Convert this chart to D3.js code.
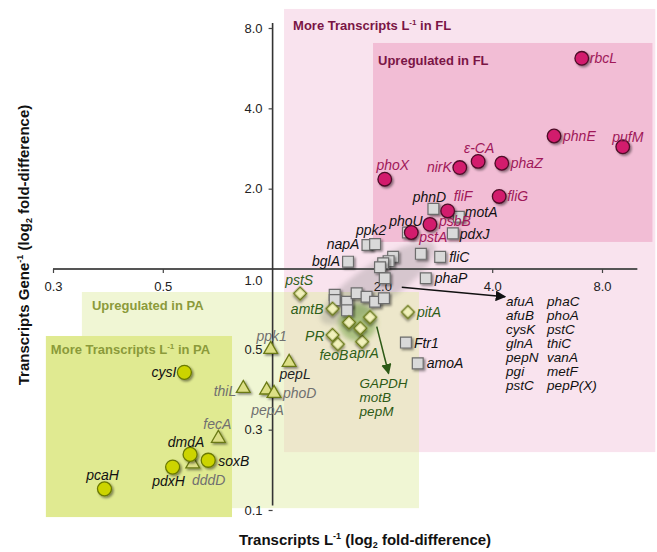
<!DOCTYPE html>
<html>
<head>
<meta charset="utf-8">
<script src="https://cdn.jsdelivr.net/npm/d3@7"></script>
<style>
  body { margin: 0; background: #fff; }
  svg { display: block; font-family: "Liberation Sans", Arial, Helvetica, sans-serif; }
</style>
</head>
<body>
<svg id="chart" width="657" height="552"></svg>
<script>
// ---- Data: fold-differences (FL / PA), transcripts per litre (x) and per gene copy (y) ----

// Genes enriched in FL (magenta circles)
const flGenes   = ["rbcL", "phnE", "pufM", "phoX", "nirK", "ε-CA", "phaZ", "fliG", "fliF", "psbB", "pstA"];
const flPerL    = [7.04, 5.91, 9.12, 2.03, 3.26, 3.66, 4.25, 4.18, 3.02, 2.70, 2.40];
const flPerGene = [6.16, 3.15, 2.87, 2.17, 2.40, 2.53, 2.49, 1.87, 1.65, 1.47, 1.37];

// Labelled genes with more transcripts per litre in FL (grey squares)
const sqGenes   = ["phnD", "motA", "phoU", "pdxJ", "napA", "ppk2", "bglA", "fliC", "phaP", "Ftr1", "amoA"];
const sqPerL    = [2.76, 3.24, 2.35, 3.12, 1.82, 1.91, 1.61, 2.88, 2.63, 2.32, 2.50];
const sqPerGene = [1.68, 1.57, 1.37, 1.36, 1.23, 1.24, 1.065, 1.11, 0.923, 0.53, 0.443];

// Unlabelled grey squares (named in the list to the right)
const clusterPerL    = [2.55, 2.14, 2.08, 2.01, 1.97, 2.03, 1.48, 1.48, 1.60, 1.60, 1.70, 1.81, 1.91, 2.02];
const clusterPerGene = [1.14, 1.11, 1.07, 1.05, 1.015, 0.923, 0.80, 0.765, 0.754, 0.70, 0.811, 0.787, 0.754, 0.777];
const clusterListCol1 = ["afuA", "afuB", "cysK", "glnA", "pepN", "pgi", "pstC"];
const clusterListCol2 = ["phaC", "phoA", "pstC", "thiC", "vanA", "metF", "pepP(X)"];

// Diamonds
const dmGenes   = ["pstS", "amtB", "pitA", "PR", "feoB", "aprA", "", "", ""];
const dmPerL    = [1.19, 1.46, 2.35, 1.46, 1.51, 1.76, 1.62, 1.74, 1.85];
const dmPerGene = [0.81, 0.71, 0.69, 0.566, 0.523, 0.534, 0.631, 0.60, 0.66];
const greenGroupList = ["GAPDH", "motB", "pepM"];

// Triangles
const trGenes   = ["ppk1", "pepL", "thiL", "pepA", "phoD", "fecA", "dddD"];
const trPerL    = [0.988, 1.11, 0.831, 0.963, 1.009, 0.71, 0.604];
const trPerGene = [0.50, 0.447, 0.357, 0.352, 0.342, 0.232, 0.186];

// Genes enriched in PA (yellow-green circles)
const paGenes   = ["cysI", "dmdA", "soxB", "pdxH", "pcaH"];
const paPerL    = [0.573, 0.594, 0.666, 0.532, 0.346];
const paPerGene = [0.41, 0.202, 0.192, 0.181, 0.150];

// Axis ticks
const xTicks = [0.25, 0.5, 2, 4, 8];
const yTicks = [0.125, 0.25, 0.5, 2, 4, 8];

// ---- Layout ----
const svg = d3.select("#chart");
const x = d3.scaleLog().base(2).domain([0.25, 8]).range([53, 602]);
const y = d3.scaleLog().base(2).domain([0.125, 8]).range([510, 28]);
const fmt = d3.format(".1f");

// Shadow filters
const defs = svg.append("defs");
const sh = defs.append("filter").attr("id", "shadow").attr("x", "-50%").attr("y", "-50%").attr("width", "200%").attr("height", "200%");
sh.append("feDropShadow").attr("dx", 1.6).attr("dy", 1.6).attr("stdDeviation", 1.3)
  .attr("flood-color", "#000").attr("flood-opacity", 0.45);
defs.append("filter").attr("id", "soft").attr("x", "-30%").attr("y", "-30%").attr("width", "160%").attr("height", "160%")
  .append("feGaussianBlur").attr("stdDeviation", 2.5);

// Shaded regions (extents in data units)
const regions = [
  { x0: 1.075, x1: 11.2, y0: 9.43, y1: 0.206, fill: "#f9e3ee" },
  { x0: 1.885, x1: 11.0, y0: 7.03, y1: 1.263, fill: "#f2bdd5" },
  { x0: 0.300, x1: 2.52, y0: 0.82, y1: 0.127, fill: "rgba(222,236,160,0.45)" },
  { x0: 0.239, x1: 0.774, y0: 0.561, y1: 0.1176, fill: "#e0ea91" }
];
svg.append("g").selectAll("rect").data(regions).join("rect")
  .attr("x", d => x(d.x0)).attr("y", d => y(d.y0))
  .attr("width", d => x(d.x1) - x(d.x0)).attr("height", d => y(d.y1) - y(d.y0))
  .attr("fill", d => d.fill);

// Region captions
function caption(txt, sup, rest, px, py, color) {
  const t = svg.append("text").attr("x", px).attr("y", py)
    .attr("font-size", 13).attr("font-weight", "bold").attr("fill", color);
  t.append("tspan").text(txt);
  if (sup) {
    t.append("tspan").attr("font-size", 8).attr("dy", -5).text(sup);
    t.append("tspan").attr("dy", 5).text(rest);
  }
}
caption("More Transcripts L", "-1", " in FL", x(1.075) + 9, y(9.43) + 21, "#7a1545");
caption("Upregulated in FL", null, null, x(1.885) + 5, y(7.03) + 22, "#7a1545");
caption("Upregulated in PA", null, null, x(0.300) + 10, y(0.82) + 18, "#8b9a3a");
caption("More Transcripts L", "-1", " in PA", x(0.239) + 5, y(0.561) + 18, "#8b9a3a");

// Soft grey ellipse around the unlabelled cluster
svg.append("ellipse")
  .attr("cx", x(1.945)).attr("cy", y(0.886)).attr("rx", 68).attr("ry", 20)
  .attr("transform", `rotate(-34 ${x(1.945)} ${y(0.886)})`)
  .attr("fill", "rgba(110,110,110,0.25)").attr("filter", "url(#soft)");

// Green halo around GAPDH / motB / pepM
svg.append("circle")
  .attr("cx", x(1.709)).attr("cy", y(0.630)).attr("r", 19)
  .attr("fill", "rgba(105,155,55,0.5)").attr("filter", "url(#soft)");

// ---- Axes ----
const axisColor = "#444";
// horizontal axis through y = 1
svg.append("line").attr("x1", x(0.25)).attr("x2", x(10)).attr("y1", y(1)).attr("y2", y(1))
  .attr("stroke", "#555").attr("stroke-width", 1.8);
// vertical axis through x = 1
svg.append("line").attr("x1", x(1)).attr("x2", x(1)).attr("y1", y(8.35)).attr("y2", y(0.13))
  .attr("stroke", "#333").attr("stroke-width", 1.6);

const gx = svg.append("g").attr("transform", `translate(0,${y(1)})`)
  .call(d3.axisBottom(x).tickValues(xTicks).tickFormat(fmt).tickSize(4).tickPadding(9));
const gy = svg.append("g").attr("transform", `translate(${x(1)},0)`)
  .call(d3.axisLeft(y).tickValues(yTicks).tickFormat(fmt).tickSize(4).tickPadding(6));
[gx, gy].forEach(g => {
  g.select(".domain").remove();
  g.selectAll(".tick line").attr("stroke", axisColor).attr("stroke-width", 1.2);
  g.selectAll(".tick text").attr("font-size", 13).attr("fill", "#222")
    .attr("font-family", "\"Liberation Sans\", Arial, sans-serif");
});
svg.append("text").attr("x", x(1) - 10).attr("y", y(1) + 16).attr("text-anchor", "end")
  .attr("font-size", 13).attr("fill", "#222").text(fmt(1));

// Axis titles
const xt = svg.append("text").attr("x", 365).attr("y", 545).attr("text-anchor", "middle")
  .attr("font-size", 15).attr("font-weight", "bold").attr("fill", "#111");
xt.append("tspan").text("Transcripts L");
xt.append("tspan").attr("font-size", 9).attr("dy", -6).text("-1");
xt.append("tspan").attr("dy", 6).text(" (log");
xt.append("tspan").attr("font-size", 9).attr("dy", 3).text("2");
xt.append("tspan").attr("dy", -3).text(" fold-difference)");

const yt = svg.append("text").attr("transform", "translate(29,245) rotate(-90)").attr("text-anchor", "middle")
  .attr("font-size", 15).attr("font-weight", "bold").attr("fill", "#111");
yt.append("tspan").text("Transcripts Gene");
yt.append("tspan").attr("font-size", 9).attr("dy", -6).text("-1");
yt.append("tspan").attr("dy", 6).text(" (log");
yt.append("tspan").attr("font-size", 9).attr("dy", 3).text("2");
yt.append("tspan").attr("dy", -3).text(" fold-difference)");

// ---- Arrows ----
function arrowMarker(id, color) {
  defs.append("marker").attr("id", id).attr("viewBox", "0 0 10 10").attr("refX", 9).attr("refY", 5)
    .attr("markerWidth", 7).attr("markerHeight", 7).attr("orient", "auto-start-reverse")
    .append("path").attr("d", "M0,0 L10,5 L0,10 z").attr("fill", color);
}
arrowMarker("arrBlack", "#111");
arrowMarker("arrGreen", "#2d5a16");
svg.append("line").attr("x1", x(2.26)).attr("y1", y(0.854)).attr("x2", x(4.34)).attr("y2", y(0.787))
  .attr("stroke", "#111").attr("stroke-width", 1.5).attr("marker-end", "url(#arrBlack)");
svg.append("line").attr("x1", x(1.93)).attr("y1", y(0.608)).attr("x2", x(2.08)).attr("y2", y(0.406))
  .attr("stroke", "#2d5a16").attr("stroke-width", 1.5).attr("marker-end", "url(#arrGreen)");

// Gene lists beside the arrows
const listX = x(4.34) + 1, listY = y(0.787) + 9;
const listFont = 13.5;
clusterListCol1.forEach((g, i) => svg.append("text").attr("x", listX).attr("y", listY + i * 14)
  .attr("font-size", listFont).attr("font-style", "italic").attr("fill", "#111").text(g));
clusterListCol2.forEach((g, i) => svg.append("text").attr("x", listX + 41).attr("y", listY + i * 14)
  .attr("font-size", listFont).attr("font-style", "italic").attr("fill", "#111").text(g));
const gx0 = x(2.08) - 29, gy0 = y(0.406) + 15;
greenGroupList.forEach((g, i) => svg.append("text").attr("x", gx0).attr("y", gy0 + i * 14)
  .attr("font-size", listFont).attr("font-style", "italic").attr("fill", "#2d5a16").text(g));

// ---- Points ----
const sqSym = d3.symbol().type(d3.symbolSquare).size(118)();
const dmSym = d3.symbol().type(d3.symbolSquare).size(82)();
const trSym = d3.symbol().type(d3.symbolTriangle).size(82)();

function pts(perL, perGene, names) {
  return perL.map((v, i) => ({ x: v, y: perGene[i], name: names ? names[i] : "" }));
}

// grey squares
svg.append("g").selectAll("path").data(pts(clusterPerL, clusterPerGene).concat(pts(sqPerL, sqPerGene, sqGenes)))
  .join("path").attr("d", sqSym)
  .attr("transform", d => `translate(${x(d.x)},${y(d.y)})`)
  .attr("fill", "#d9d9d9").attr("stroke", "#6d6d6d").attr("stroke-width", 1.2).attr("filter", "url(#shadow)");

// diamonds
svg.append("g").selectAll("path").data(pts(dmPerL, dmPerGene, dmGenes))
  .join("path").attr("d", dmSym)
  .attr("transform", d => `translate(${x(d.x)},${y(d.y)}) rotate(45)`)
  .attr("fill", "#f1f1bb").attr("stroke", "#6b7a14").attr("stroke-width", 1.6).attr("filter", "url(#shadow)");

// triangles
svg.append("g").selectAll("path").data(pts(trPerL, trPerGene, trGenes))
  .join("path").attr("d", trSym)
  .attr("transform", d => `translate(${x(d.x)},${y(d.y)})`)
  .attr("fill", "#dcdf86").attr("stroke", "#6b7a14").attr("stroke-width", 1.3).attr("filter", "url(#shadow)");

// PA circles
svg.append("g").selectAll("circle").data(pts(paPerL, paPerGene, paGenes))
  .join("circle").attr("cx", d => x(d.x)).attr("cy", d => y(d.y)).attr("r", 7)
  .attr("fill", "#ccd400").attr("stroke", "#6b7a00").attr("stroke-width", 1.3).attr("filter", "url(#shadow)");

// FL circles
svg.append("g").selectAll("circle").data(pts(flPerL, flPerGene, flGenes))
  .join("circle").attr("cx", d => x(d.x)).attr("cy", d => y(d.y)).attr("r", 6.8)
  .attr("fill", "#d21b6d").attr("stroke", "#4d0a27").attr("stroke-width", 1.3).attr("filter", "url(#shadow)");

// ---- Point labels: [dx, dy, anchor] relative to the mark ----
const labelPlace = {
  rbcL: [8, 5, "start"], phnE: [9, 5, "start"], pufM: [5, -5, "middle"], phoX: [8, -9, "middle"],
  nirK: [-8, 4, "end"], "ε-CA": [1, -8, "middle"], phaZ: [9, 5, "start"], fliG: [8, 5, "start"],
  fliF: [6, -10, "start"], psbB: [9, 2, "start"], pstA: [8, 9, "start"],
  phnD: [-4, -7, "middle"], motA: [6, 0, "start"], phoU: [-2, -7, "middle"], pdxJ: [7, 6, "start"],
  napA: [-8, 4, "end"], ppk2: [-4, -9, "middle"], bglA: [-8, 4, "end"], fliC: [9, 5, "start"],
  phaP: [9, 5, "start"], Ftr1: [8, 5, "start"], amoA: [9, 5, "start"],
  pstS: [-1, -8, "middle"], amtB: [-9, 5, "end"], pitA: [9, 5, "start"], PR: [-8, 6, "end"],
  feoB: [-4, 16, "middle"], aprA: [2, 16, "middle"],
  ppk1: [1, -8, "middle"], pepL: [6, 17, "middle"], thiL: [-7, 8, "end"], pepA: [1, 25, "middle"],
  phoD: [9, 5, "start"], fecA: [-1, -9, "middle"], dddD: [16, 21, "middle"],
  cysI: [-8, 5, "end"], dmdA: [-4, -7, "middle"], soxB: [10, 6, "start"], pdxH: [-4, 19, "middle"],
  pcaH: [-2, -9, "middle"]
};
const labelColor = {
  fl: "#a01859", sq: "#111", dm: "#2f5f18", pa: "#111",
  tr: { ppk1: "#707070", pepL: "#222", thiL: "#707070", pepA: "#707070", phoD: "#707070", fecA: "#707070", dddD: "#707070" }
};
function labels(data, colorFn) {
  svg.append("g").selectAll("text").data(data.filter(d => d.name && labelPlace[d.name]))
    .join("text")
    .attr("x", d => x(d.x) + labelPlace[d.name][0])
    .attr("y", d => y(d.y) + labelPlace[d.name][1])
    .attr("text-anchor", d => labelPlace[d.name][2])
    .attr("font-size", 14).attr("font-style", "italic")
    .attr("fill", colorFn).text(d => d.name);
}
labels(pts(sqPerL, sqPerGene, sqGenes), () => labelColor.sq);
labels(pts(dmPerL, dmPerGene, dmGenes), () => labelColor.dm);
labels(pts(trPerL, trPerGene, trGenes), d => labelColor.tr[d.name]);
labels(pts(paPerL, paPerGene, paGenes), () => labelColor.pa);
labels(pts(flPerL, flPerGene, flGenes), () => labelColor.fl);
</script>
</body>
</html>
